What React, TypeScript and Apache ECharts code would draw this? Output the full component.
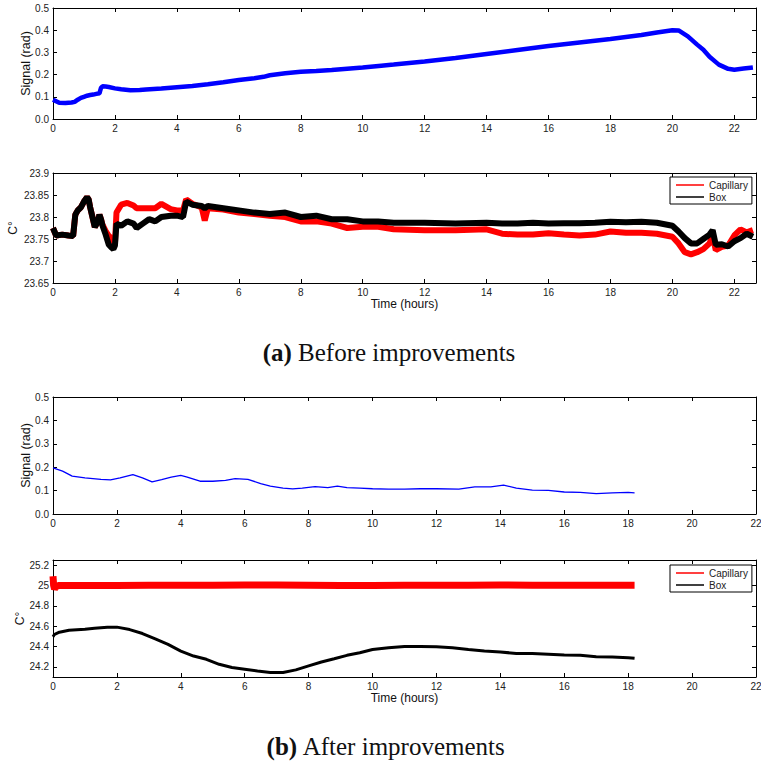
import { useEffect, useRef } from 'react';
import * as echarts from 'echarts';

// ---- (a) Before improvements ----
const signalBeforeHours = [0, 0.1, 0.2, 0.4, 0.6, 0.7, 0.8, 0.9, 1.0, 1.1, 1.2, 1.3, 1.4, 1.5, 1.55, 1.6, 1.7, 1.8, 2.0, 2.2, 2.5, 2.8, 3.0, 3.5, 4.0, 4.5, 5.0, 5.5, 6.0, 6.5, 6.8, 7.0, 7.5, 8.0, 8.5, 9.0, 10, 10.6, 11, 12, 13, 14, 15, 16, 17, 18, 19, 19.5, 20.0, 20.2, 20.5, 20.8, 21.0, 21.2, 21.5, 21.8, 22.0, 22.3, 22.6];
const signalBefore = [0.087, 0.08, 0.073, 0.072, 0.074, 0.077, 0.087, 0.095, 0.1, 0.105, 0.108, 0.11, 0.113, 0.116, 0.14, 0.147, 0.146, 0.144, 0.138, 0.134, 0.13, 0.131, 0.133, 0.137, 0.143, 0.149, 0.157, 0.166, 0.176, 0.184, 0.19, 0.197, 0.206, 0.213, 0.216, 0.221, 0.232, 0.24, 0.245, 0.259, 0.275, 0.293, 0.311, 0.329, 0.345, 0.36, 0.378, 0.39, 0.4, 0.399, 0.372, 0.335, 0.312, 0.28, 0.245, 0.226, 0.222, 0.227, 0.232];

const tempBeforeHours = [0, 0.1, 0.3, 0.5, 0.65, 0.72, 0.8, 0.9, 1.0, 1.1, 1.15, 1.2, 1.3, 1.35, 1.45, 1.5, 1.55, 1.6, 1.7, 1.8, 1.9, 1.95, 2.0, 2.05, 2.2, 2.4, 2.6, 2.7, 2.9, 3.1, 3.3, 3.5, 3.8, 4.0, 4.2, 4.3, 4.5, 4.8, 4.9, 5.0, 5.5, 6.0, 6.5, 7.0, 7.5, 8.0, 8.5, 9.0, 9.5, 10, 10.5, 11, 12, 13, 14, 14.5, 15, 15.5, 16, 16.5, 17, 17.5, 18, 18.5, 19, 19.5, 20, 20.2, 20.4, 20.6, 20.8, 21.0, 21.2, 21.3, 21.4, 21.6, 21.8, 22.0, 22.2, 22.4, 22.6];
const capillaryBefore = [23.775, 23.758, 23.76, 23.758, 23.757, 23.805, 23.815, 23.822, 23.835, 23.845, 23.84, 23.822, 23.792, 23.777, 23.79, 23.805, 23.795, 23.782, 23.768, 23.757, 23.752, 23.745, 23.74, 23.81, 23.828, 23.832, 23.826, 23.82, 23.82, 23.82, 23.82, 23.83, 23.818, 23.815, 23.815, 23.84, 23.83, 23.822, 23.792, 23.82, 23.817, 23.81, 23.807, 23.803, 23.8, 23.79, 23.79, 23.785, 23.775, 23.778, 23.778, 23.772, 23.77, 23.77, 23.772, 23.762, 23.76, 23.76, 23.763, 23.76, 23.758, 23.76, 23.767, 23.764, 23.764, 23.762, 23.755, 23.74, 23.72, 23.715, 23.72, 23.727, 23.74, 23.758, 23.725, 23.732, 23.735, 23.758, 23.772, 23.765, 23.77];
const boxBefore = [23.775, 23.758, 23.76, 23.758, 23.757, 23.805, 23.815, 23.822, 23.835, 23.845, 23.84, 23.822, 23.792, 23.777, 23.79, 23.805, 23.795, 23.78, 23.76, 23.737, 23.73, 23.727, 23.735, 23.785, 23.78, 23.79, 23.785, 23.775, 23.785, 23.795, 23.79, 23.8, 23.803, 23.803, 23.8, 23.835, 23.828, 23.825, 23.82, 23.825, 23.82, 23.815, 23.81, 23.807, 23.81, 23.8, 23.803, 23.795, 23.795, 23.79, 23.79, 23.787, 23.787, 23.785, 23.787, 23.785, 23.785, 23.787, 23.785, 23.786, 23.786, 23.787, 23.789, 23.788, 23.789, 23.787, 23.78, 23.767, 23.752, 23.74, 23.74, 23.75, 23.76, 23.77, 23.737, 23.738, 23.733, 23.745, 23.752, 23.762, 23.755];

// ---- (b) After improvements ----
const signalAfterHours = [0, 0.3, 0.6, 1.0, 1.5, 1.8, 2.1, 2.5, 2.8, 3.1, 3.4, 3.7, 4.0, 4.2, 4.6, 5.0, 5.4, 5.7, 6.1, 6.5, 6.8, 7.2, 7.5, 7.8, 8.2, 8.6, 8.9, 9.2, 9.6, 10, 10.5, 11, 11.5, 12, 12.7, 13.2, 13.7, 14.1, 14.5, 15, 15.5, 16, 16.5, 17, 17.5, 18, 18.2];
const signalAfter = [0.197, 0.183, 0.162, 0.154, 0.148, 0.146, 0.154, 0.168, 0.154, 0.137, 0.147, 0.158, 0.165, 0.158, 0.14, 0.14, 0.144, 0.151, 0.148, 0.13, 0.119, 0.111, 0.107, 0.111, 0.117, 0.113, 0.119, 0.113, 0.111, 0.108, 0.106, 0.106, 0.108, 0.108, 0.106, 0.116, 0.116, 0.123, 0.111, 0.102, 0.101, 0.094, 0.092, 0.087, 0.09, 0.092, 0.09];

const capillaryAfterHours = [0, 0.02, 0.05, 0.1, 0.2, 1, 2, 3, 4, 5, 6, 7, 8, 9, 10, 11, 12, 13, 14, 15, 16, 17, 18, 18.2];
const capillaryAfter = [25.09, 25.0, 24.965, 24.99, 25.0, 25.0, 25.0, 25.002, 25.003, 25.002, 25.005, 25.004, 25.002, 25.0, 25.0, 25.001, 25.002, 25.001, 25.004, 25.002, 25.001, 25.002, 25.002, 25.002];

const boxAfterHours = [0, 0.05, 0.2, 0.5, 1.0, 1.3, 1.7, 2.0, 2.4, 2.8, 3.2, 3.6, 4.0, 4.4, 4.8, 5.2, 5.6, 6.0, 6.4, 6.8, 7.2, 7.6, 8.0, 8.4, 8.8, 9.2, 9.6, 10, 10.5, 11, 11.5, 12, 12.5, 13, 13.5, 14, 14.5, 15, 15.5, 16, 16.5, 17, 17.5, 18, 18.2];
const boxAfter = [24.496, 24.52, 24.54, 24.56, 24.57, 24.58, 24.59, 24.59, 24.566, 24.527, 24.475, 24.42, 24.355, 24.306, 24.274, 24.225, 24.193, 24.177, 24.16, 24.144, 24.144, 24.17, 24.209, 24.248, 24.28, 24.313, 24.339, 24.37, 24.387, 24.4, 24.4, 24.397, 24.387, 24.37, 24.355, 24.345, 24.332, 24.33, 24.323, 24.316, 24.313, 24.3, 24.297, 24.29, 24.284];

// ---- axis ticks ----
const hourTicks = [0, 2, 4, 6, 8, 10, 12, 14, 16, 18, 20, 22];
const signalTicks = [0, 0.1, 0.2, 0.3, 0.4, 0.5];
const tempBeforeTicks = [23.65, 23.7, 23.75, 23.8, 23.85, 23.9];
const tempAfterTicks = [24.2, 24.4, 24.6, 24.8, 25, 25.2];

const SANS = '"Liberation Sans", Arial, Helvetica, sans-serif';
const SERIF = '"Liberation Serif", "Times New Roman", serif';

const pairs = (xs: number[], ys: number[]) => xs.map((x, i) => [x, ys[i]]);

const trim = (v: number) => String(+v.toFixed(2));

type Panel = {
  xMax: number;
  yMin: number;
  yMax: number;
  yTicks: number[];
  yFmt: (v: number) => string;
  yName: string;
  yNameGap: number;
  yNameSize: number;
  xName?: string;
  xNameGap?: number;
};

function buildAxes(panels: Panel[]) {
  const xAxis: any[] = [];
  const yAxis: any[] = [];
  panels.forEach((p, g) => {
    const line = { show: true, onZero: false, lineStyle: { color: '#000', width: 1 } };
    const tick = { show: true, inside: true, length: 4, lineStyle: { color: '#000', width: 1 } };
    xAxis.push({
      type: 'value', gridIndex: g, position: 'bottom', min: 0, max: p.xMax,
      axisLine: line,
      axisTick: { ...tick, customValues: hourTicks },
      axisLabel: { customValues: hourTicks, margin: 4, fontSize: 10, color: '#222', fontFamily: SANS, formatter: (v: number) => String(v) },
      splitLine: { show: false },
      name: p.xName || '', nameLocation: 'middle', nameGap: p.xNameGap || 0,
      nameTextStyle: { fontSize: 12, color: '#111', fontFamily: SANS },
    });
    xAxis.push({
      type: 'value', gridIndex: g, position: 'top', min: 0, max: p.xMax,
      axisLine: line,
      axisTick: { ...tick, customValues: hourTicks },
      axisLabel: { show: false },
      splitLine: { show: false },
    });
    yAxis.push({
      type: 'value', gridIndex: g, position: 'left', min: p.yMin, max: p.yMax,
      axisLine: line,
      axisTick: { ...tick, customValues: p.yTicks },
      axisLabel: { customValues: p.yTicks, margin: 4, fontSize: 10, color: '#222', fontFamily: SANS, formatter: p.yFmt },
      splitLine: { show: false },
      name: p.yName, nameLocation: 'middle', nameRotate: 90, nameGap: p.yNameGap,
      nameMoveOverlap: false,
      nameTextStyle: { fontSize: p.yNameSize, color: '#111', fontFamily: SANS },
    });
    yAxis.push({
      type: 'value', gridIndex: g, position: 'right', min: p.yMin, max: p.yMax,
      axisLine: line,
      axisTick: { ...tick, customValues: p.yTicks },
      axisLabel: { show: false },
      splitLine: { show: false },
    });
  });
  return { xAxis, yAxis };
}

function legendAt(top: number) {
  return {
    data: ['Capillary', 'Box'],
    orient: 'vertical',
    left: 670,
    top,
    padding: [2, 4, 1, 6],
    icon: 'rect',
    itemWidth: 28,
    itemHeight: 1.5,
    itemGap: 0,
    selectedMode: false,
    borderColor: '#000',
    borderWidth: 1,
    backgroundColor: '#fff',
    textStyle: { fontSize: 10, color: '#222', fontFamily: SANS, lineHeight: 12 },
  };
}

const gridBase = { left: 53, width: 703, outerBoundsMode: 'none', containLabel: false };

export default function App() {
  const ref = useRef<HTMLDivElement>(null);

  useEffect(() => {
    if (!ref.current) return;
    const chart = echarts.init(ref.current, undefined, { renderer: 'svg' });

    const { xAxis, yAxis } = buildAxes([
      { xMax: 22.7, yMin: 0, yMax: 0.5, yTicks: signalTicks, yFmt: (v) => v.toFixed(1), yName: 'Signal (rad)', yNameGap: 21, yNameSize: 12.5 },
      { xMax: 22.7, yMin: 23.65, yMax: 23.9, yTicks: tempBeforeTicks, yFmt: trim, yName: 'C°', yNameGap: 34, yNameSize: 12, xName: 'Time (hours)', xNameGap: 15 },
      { xMax: 22, yMin: 0, yMax: 0.5, yTicks: signalTicks, yFmt: (v) => v.toFixed(1), yName: 'Signal (rad)', yNameGap: 21, yNameSize: 12.5 },
      { xMax: 22, yMin: 24.1, yMax: 25.25, yTicks: tempAfterTicks, yFmt: trim, yName: 'C°', yNameGap: 27, yNameSize: 12, xName: 'Time (hours)', xNameGap: 14 },
    ]);

    chart.setOption({
      animation: false,
      backgroundColor: '#fff',
      grid: [
        { ...gridBase, top: 8, height: 111 },
        { ...gridBase, top: 173, height: 110 },
        { ...gridBase, top: 397, height: 117 },
        { ...gridBase, top: 560, height: 117 },
      ],
      xAxis,
      yAxis,
      legend: [legendAt(177), legendAt(565)],
      series: [
        {
          name: 'Signal', type: 'line', xAxisIndex: 0, yAxisIndex: 0, symbol: 'none',
          data: pairs(signalBeforeHours, signalBefore),
          lineStyle: { color: '#0000ff', width: 4.5 }, itemStyle: { color: '#0000ff' },
        },
        {
          name: 'Capillary', type: 'line', xAxisIndex: 2, yAxisIndex: 2, symbol: 'none',
          data: pairs(tempBeforeHours, capillaryBefore),
          lineStyle: { color: '#ff0000', width: 6 }, itemStyle: { color: '#ff0000' },
        },
        {
          name: 'Box', type: 'line', xAxisIndex: 2, yAxisIndex: 2, symbol: 'none',
          data: pairs(tempBeforeHours, boxBefore),
          lineStyle: { color: '#000', width: 6 }, itemStyle: { color: '#000' },
        },
        {
          name: 'Signal after', type: 'line', xAxisIndex: 4, yAxisIndex: 4, symbol: 'none',
          data: pairs(signalAfterHours, signalAfter),
          lineStyle: { color: '#0000ff', width: 1.3 }, itemStyle: { color: '#0000ff' },
        },
        {
          name: 'Capillary', type: 'line', xAxisIndex: 6, yAxisIndex: 6, symbol: 'none',
          data: pairs(capillaryAfterHours, capillaryAfter),
          lineStyle: { color: '#ff0000', width: 7 }, itemStyle: { color: '#ff0000' },
        },
        {
          name: 'Box', type: 'line', xAxisIndex: 6, yAxisIndex: 6, symbol: 'none',
          data: pairs(boxAfterHours, boxAfter),
          lineStyle: { color: '#000', width: 3 }, itemStyle: { color: '#000' },
        },
      ],
      graphic: [
        {
          type: 'text', x: 389, y: 352,
          style: {
            text: '{b|(a)} Before improvements',
            rich: { b: { fontWeight: 'bold', fontFamily: SERIF, fontSize: 25, fill: '#111' } },
            fontFamily: SERIF, fontSize: 25, fill: '#111',
            align: 'center', verticalAlign: 'middle',
          },
        },
        {
          type: 'text', x: 386, y: 746,
          style: {
            text: '{b|(b)} After improvements',
            rich: { b: { fontWeight: 'bold', fontFamily: SERIF, fontSize: 25, fill: '#111' } },
            fontFamily: SERIF, fontSize: 25, fill: '#111',
            align: 'center', verticalAlign: 'middle',
          },
        },
      ],
    });

    return () => chart.dispose();
  }, []);

  return (
    <div
      ref={ref}
      style={{ position: 'absolute', left: 0, top: 0, width: 761, height: 764 }}
    />
  );
}
